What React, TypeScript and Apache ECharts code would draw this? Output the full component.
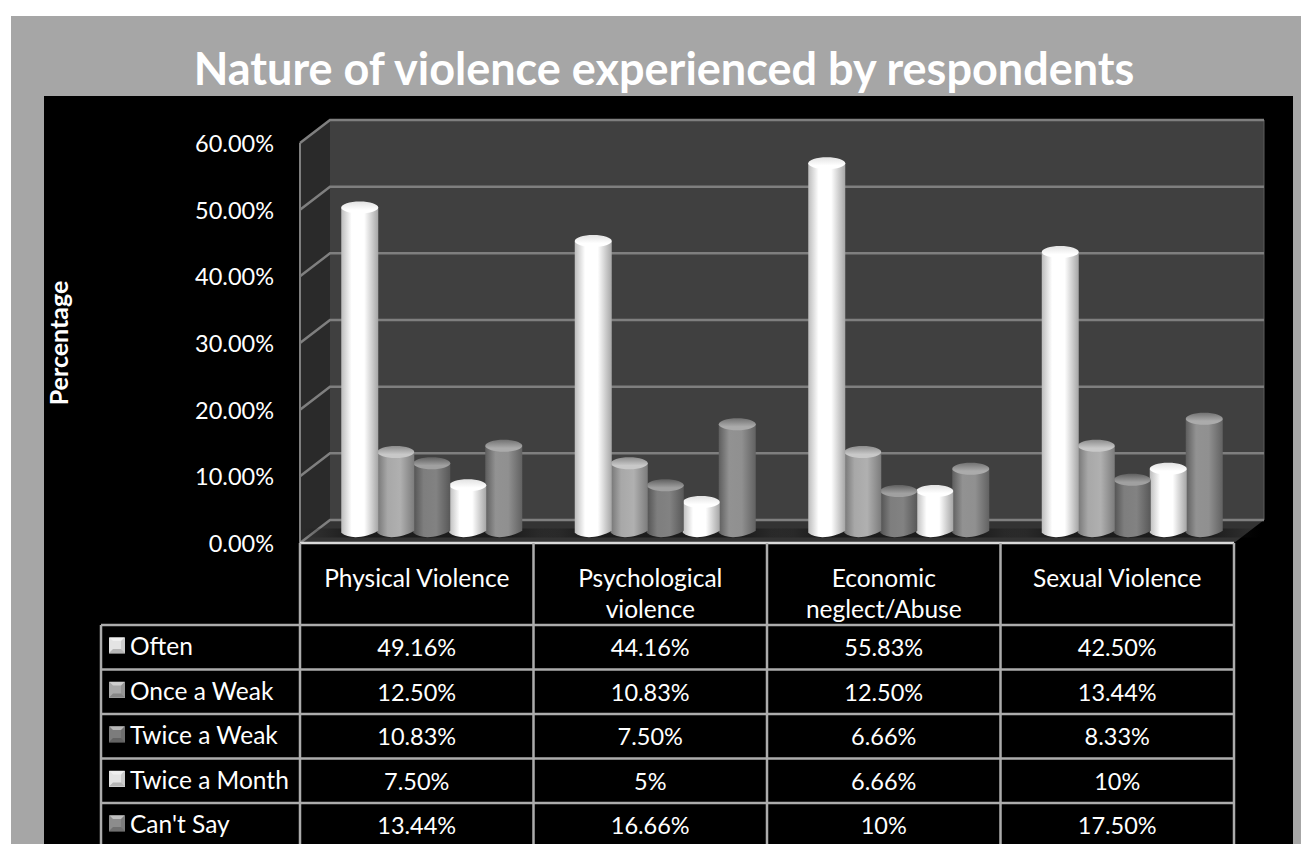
import React, { useEffect, useRef } from "react";
import * as echarts from "echarts";

// Survey results, in percent
const categories = ["Physical Violence", "Psychological\nviolence", "Economic\nneglect/Abuse", "Sexual Violence"];
const seriesNames = ["Often", "Once a Weak", "Twice a Weak", "Twice a Month", "Can't Say"];
const often = [49.16, 44.16, 55.83, 42.5];
const onceAWeak = [12.5, 10.83, 12.5, 13.44];
const twiceAWeak = [10.83, 7.5, 6.66, 8.33];
const twiceAMonth = [7.5, 5, 6.66, 10];
const cantSay = [13.44, 16.66, 10, 17.5];
const valueTicks = [0, 10, 20, 30, 40, 50, 60];

const seriesValues = [often, onceAWeak, twiceAWeak, twiceAMonth, cantSay];

// Cylinder shading per series: left edge, body light, body mid, right edge, cap back, cap front, legend key
const shades = [
  ["#bcbcbc", "#ffffff", "#ffffff", "#a6a6a6", "#e2e2e2", "#ffffff", "#e4e4e4"],
  ["#767676", "#a8a8a8", "#b0b0b0", "#7c7c7c", "#8c8c8c", "#c8c8c8", "#a8a8a8"],
  ["#525252", "#7e7e7e", "#828282", "#585858", "#606060", "#a0a0a0", "#7c7c7c"],
  ["#bcbcbc", "#ffffff", "#ffffff", "#a6a6a6", "#e2e2e2", "#ffffff", "#e4e4e4"],
  ["#5e5e5e", "#929292", "#909090", "#626262", "#727272", "#ababab", "#8c8c8c"],
];

const FONT = "Lato, Carlito, 'Noto Sans', sans-serif";
const PLOT = { left: 300, top: 143, width: 934, height: 400 };
const DEPTH_X = 30;
const DEPTH_Y = -23;
const BAR_STEP = 36;
const BAR_RX = 18.5;
const BAR_RY = 6;
const TABLE = { left: 101, headerBottom: 625, rowHeight: 44.5, bottom: 844 };
const KEY = { left: 109, inset: 12, size: 16, textLine: 24 };
const LINE = "#acacac";

// Prints whole percentages bare and everything else with two decimals
const formatCell = (v: number) => (Number.isInteger(v) ? `${v}%` : `${v.toFixed(2)}%`);
const rowTop = (r: number) => TABLE.headerBottom + r * TABLE.rowHeight;

function renderWalls(params: any, api: any) {
  const { x, width } = params.coordSys;
  const y0 = api.coord([0, 0])[1];
  const yMax = api.coord([0, 60])[1];
  const x1 = x + width;
  const children: any[] = [
    {
      type: "polygon",
      shape: { points: [[x + DEPTH_X, yMax + DEPTH_Y], [x1 + DEPTH_X, yMax + DEPTH_Y], [x1 + DEPTH_X, y0 + DEPTH_Y], [x + DEPTH_X, y0 + DEPTH_Y]] },
      style: { fill: "#404040" },
    },
    {
      type: "polygon",
      shape: { points: [[x, yMax], [x + DEPTH_X, yMax + DEPTH_Y], [x + DEPTH_X, y0 + DEPTH_Y], [x, y0]] },
      style: { fill: "#2a2a2a" },
    },
    {
      type: "polygon",
      shape: { points: [[x, y0], [x + DEPTH_X, y0 + DEPTH_Y], [x1 + DEPTH_X, y0 + DEPTH_Y], [x1, y0]] },
      style: { fill: "#333333" },
    },
    {
      type: "line",
      shape: { x1: x, y1: yMax, x2: x, y2: y0 },
      style: { stroke: "#7f7f7f", lineWidth: 2 },
    },
    {
      type: "line",
      shape: { x1: x1 + DEPTH_X, y1: yMax + DEPTH_Y, x2: x1 + DEPTH_X, y2: y0 + DEPTH_Y },
      style: { stroke: "#5c5c5c", lineWidth: 1 },
    },
  ];
  valueTicks.forEach((tick) => {
    const y = api.coord([0, tick])[1];
    children.push({
      type: "polyline",
      shape: { points: [[x, y], [x + DEPTH_X, y + DEPTH_Y], [x1 + DEPTH_X, y + DEPTH_Y]] },
      style: { stroke: "#7f7f7f", lineWidth: 2.5, fill: "none" },
    });
  });
  // Soft contact shadow under each cluster
  categories.forEach((_, i) => {
    const cx = api.coord([i, 0])[0] + DEPTH_X / 2;
    const halfSpan = BAR_STEP * 2.5 + 38;
    children.push({
      type: "rect",
      shape: { x: cx - halfSpan, y: y0 + DEPTH_Y / 2 - 3, width: halfSpan * 2, height: 9 },
      style: {
        fill: new echarts.graphic.LinearGradient(0, 0, 1, 0, [
          { offset: 0, color: "rgba(20,20,20,0)" },
          { offset: 0.2, color: "rgba(20,20,20,0.75)" },
          { offset: 0.8, color: "rgba(20,20,20,0.75)" },
          { offset: 1, color: "rgba(20,20,20,0)" },
        ]),
      },
    });
  });
  return { type: "group", children };
}

function cylinderRenderer(seriesIndex: number) {
  const shade = shades[seriesIndex];
  return (_params: any, api: any) => {
    const [px, py] = api.coord([api.value(0), api.value(1)]);
    const y0 = api.coord([api.value(0), 0])[1];
    const cx = px + DEPTH_X / 2 + (seriesIndex - 2) * BAR_STEP;
    const left = cx - BAR_RX;
    const right = cx + BAR_RX;
    const topY = py + DEPTH_Y / 3;
    const baseY = y0 + DEPTH_Y / 2;
    const body = [
      `M ${left} ${topY}`,
      `L ${left} ${baseY + 1}`,
      `C ${left + 8} ${baseY + 8} ${right - 12} ${baseY + 6} ${right} ${baseY - 1}`,
      `L ${right} ${topY}`,
      "Z",
    ].join(" ");
    return {
      type: "group",
      children: [
        {
          type: "path",
          shape: { pathData: body, x: left, y: topY, width: right - left, height: baseY + 6 - topY },
          style: {
            fill: new echarts.graphic.LinearGradient(0, 0, 1, 0, [
              { offset: 0, color: shade[0] },
              { offset: 0.28, color: shade[1] },
              { offset: 0.62, color: shade[2] },
              { offset: 1, color: shade[3] },
            ]),
          },
        },
        {
          type: "ellipse",
          shape: { cx, cy: topY, rx: BAR_RX, ry: BAR_RY },
          style: {
            fill: new echarts.graphic.LinearGradient(0, 0, 0, 1, [
              { offset: 0, color: shade[4] },
              { offset: 0.7, color: shade[5] },
              { offset: 1, color: shade[5] },
            ]),
          },
        },
      ],
    };
  };
}

function buildTable() {
  const els: any[] = [];
  const colWidth = PLOT.width / categories.length;
  const plotBottom = PLOT.top + PLOT.height;
  const hLine = (x1: number, x2: number, y: number, stroke: string) =>
    els.push({ type: "line", z: 5, shape: { x1, y1: y, x2, y2: y }, style: { stroke, lineWidth: 2.5 } });
  const vLine = (x: number, y1: number, y2: number) =>
    els.push({ type: "line", z: 5, shape: { x1: x, y1, x2: x, y2 }, style: { stroke: LINE, lineWidth: 2.5 } });

  hLine(PLOT.left, PLOT.left + PLOT.width, plotBottom, "#d9d9d9");
  seriesNames.forEach((_, r) => hLine(TABLE.left, PLOT.left + PLOT.width, rowTop(r), LINE));
  vLine(TABLE.left, TABLE.headerBottom, TABLE.bottom);
  categories.forEach((_, c) => vLine(PLOT.left + c * colWidth, plotBottom, TABLE.bottom));
  vLine(PLOT.left + PLOT.width, plotBottom, TABLE.bottom);

  seriesValues.forEach((values, r) => {
    values.forEach((v, c) => {
      els.push({
        type: "text",
        z: 6,
        x: PLOT.left + (c + 0.5) * colWidth,
        y: rowTop(r) + TABLE.rowHeight / 2,
        style: {
          text: formatCell(v),
          fill: "#fff",
          font: `23.5px ${FONT}`,
          align: "center",
          verticalAlign: "middle",
        },
      });
    });
    // Bevel facets on the legend keys
    const kx = KEY.left;
    const ky = rowTop(r) + KEY.inset;
    const size = KEY.size;
    const inset = 4;
    const facet = (pts: number[][], fill: string) =>
      els.push({ type: "polygon", z: 20, shape: { points: pts }, style: { fill } });
    facet([[kx, ky], [kx + size, ky], [kx + size - inset, ky + inset], [kx + inset, ky + inset]], "rgba(255,255,255,0.45)");
    facet([[kx, ky + size], [kx + size, ky + size], [kx + size - inset, ky + size - inset], [kx + inset, ky + size - inset]], "rgba(0,0,0,0.2)");
    facet([[kx + size, ky], [kx + size, ky + size], [kx + size - inset, ky + size - inset], [kx + size - inset, ky + inset]], "rgba(0,0,0,0.1)");
  });
  return els;
}

export default function App() {
  const ref = useRef<HTMLDivElement>(null);

  useEffect(() => {
    document.body.style.margin = "0";
    const chart = echarts.init(ref.current!, undefined, { renderer: "svg" });
    chart.setOption({
      animation: false,
      backgroundColor: "#ffffff",
      title: {
        text: "Nature of violence experienced by respondents",
        left: 664,
        top: 45,
        textAlign: "center",
        padding: 0,
        textStyle: { color: "#ffffff", fontFamily: FONT, fontWeight: "bold", fontSize: 45 },
      },
      // One legend per table row, so each key sits in its own cell
      legend: seriesNames.map((name, r) => ({
        left: KEY.left,
        top: rowTop(r) + KEY.inset - (KEY.textLine - KEY.size) / 2,
        padding: 0,
        icon: "rect",
        itemWidth: KEY.size,
        itemHeight: KEY.size,
        selectedMode: false,
        data: [name],
        textStyle: { color: "#ffffff", fontFamily: FONT, fontSize: 24.5, lineHeight: KEY.textLine },
      })),
      grid: { ...PLOT },
      xAxis: {
        type: "category",
        data: categories,
        axisLine: { show: false },
        axisTick: { show: false },
        axisLabel: {
          interval: 0,
          margin: 19,
          color: "#ffffff",
          fontFamily: FONT,
          fontSize: 24.5,
          lineHeight: 31,
          verticalAlign: "top",
        },
      },
      yAxis: {
        type: "value",
        min: 0,
        max: 60,
        interval: 10,
        name: "Percentage",
        nameLocation: "middle",
        nameRotate: 90,
        nameGap: 230,
        nameTextStyle: { color: "#ffffff", fontFamily: FONT, fontWeight: "bold", fontSize: 25 },
        axisLine: { show: false },
        axisTick: { show: false },
        splitLine: { show: false },
        axisLabel: {
          margin: 26,
          color: "#ffffff",
          fontFamily: FONT,
          fontSize: 23.5,
          formatter: (v: number) => `${v.toFixed(2)}%`,
        },
      },
      graphic: [
        { type: "rect", z: -2, shape: { x: 11, y: 16, width: 1290, height: 828 }, style: { fill: "#a6a6a6" } },
        { type: "rect", z: -1, shape: { x: 44, y: 96, width: 1249, height: 748 }, style: { fill: "#000000" } },
        ...buildTable(),
      ],
      series: [
        {
          type: "custom",
          silent: true,
          z: 1,
          coordinateSystem: "cartesian2d",
          data: [[0, 0]],
          renderItem: renderWalls,
        },
        ...seriesNames.map((name, i) => ({
          type: "custom",
          name,
          z: 10 - i,
          coordinateSystem: "cartesian2d",
          itemStyle: { color: shades[i][6] },
          encode: { x: 0, y: 1 },
          data: seriesValues[i].map((v, c) => [c, v]),
          renderItem: cylinderRenderer(i),
        })),
      ],
    });
    return () => chart.dispose();
  }, []);

  return <div ref={ref} style={{ width: 1301, height: 844, overflow: "hidden" }} />;
}
